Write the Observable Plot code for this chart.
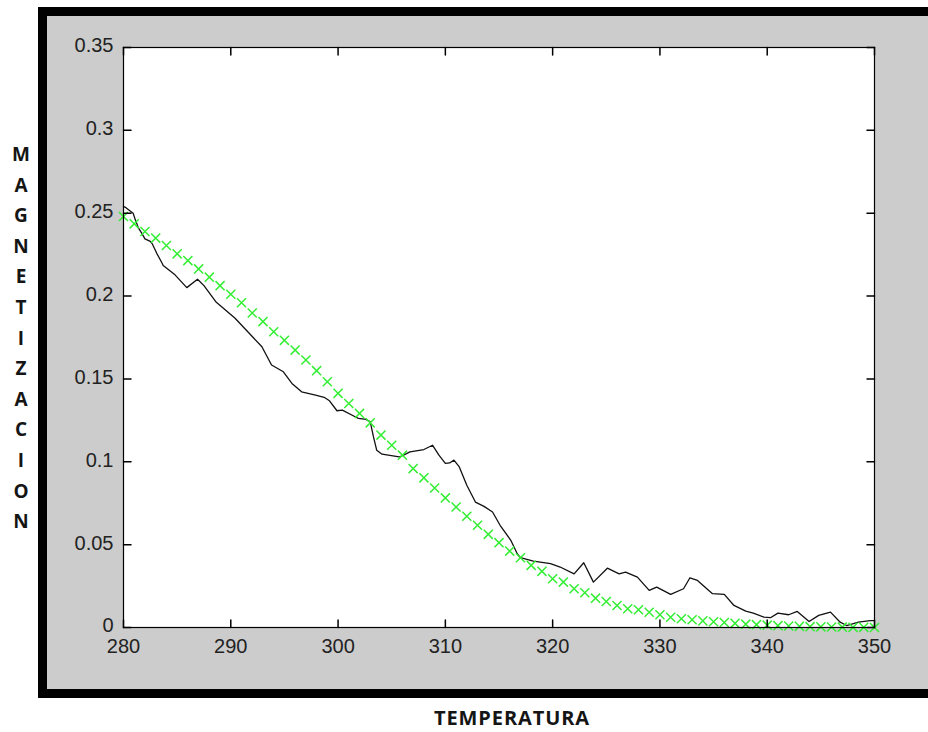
<!DOCTYPE html>
<html>
<head>
<meta charset="utf-8">
<script src="https://cdn.jsdelivr.net/npm/d3@7"></script>
<script src="https://cdn.jsdelivr.net/npm/@observablehq/plot@0.6"></script>
<style>
  html, body { margin: 0; padding: 0; background: #ffffff; }
  #page { position: relative; width: 928px; height: 732px; overflow: hidden; }
  #panel {
    position: absolute; left: 38px; top: 7px; width: 940px; height: 673px;
    background: #cccccc; border: 9px solid #000000;
  }
  #chart { position: absolute; left: 0; top: 0; }
  #ylabel {
    position: absolute; left: 6px; top: 139px; width: 30px;
    font-family: "Open Sans", sans-serif; font-weight: 700; font-size: 19px;
    line-height: 30.6px; text-align: center; color: #151515;
  }
  #xlabel {
    position: absolute; left: 0; top: 704px; width: 1024px;
    font-family: "Open Sans", sans-serif; font-weight: 700; font-size: 20px;
    text-align: center; color: #151515; letter-spacing: 0.9px;
  }
</style>
</head>
<body>
<div id="page">
  <div id="panel"></div>
  <div id="chart"></div>
  <div id="ylabel"></div>
  <div id="xlabel">TEMPERATURA</div>
</div>
<script>
// Measured magnetization (noisy curve)
const measuredT = [
  280, 280.2, 280.5, 280.9, 281.1, 281.4, 281.7, 282.0, 282.5, 282.7,
  283.1, 283.6, 283.7, 284.8, 285.9, 286.9, 287.5, 288.6, 290.4, 292.9,
  293.8, 294.9, 295.7, 296.6, 297.9, 298.7, 299.2, 299.9, 300.4, 301.5,
  301.9, 302.6, 303.0, 303.3, 303.6, 304.1, 305.7, 306.1, 306.7, 308.0,
  308.8, 309.4, 310.0, 310.4, 310.8, 311.3, 312.0, 312.8, 313.6, 314.4,
  315.1, 316.1, 316.7, 317.0, 318.2, 319.8, 320.7, 322.0, 322.9, 323.8,
  325.1, 326.2, 326.8, 327.9, 329.0, 329.7, 331.0, 332.2, 332.8, 333.5,
  334.9, 336.0, 336.9, 338.0, 338.7, 339.7, 340.3, 341.0, 342.0, 342.8,
  343.9, 344.8, 345.9, 346.8, 347.4, 348.5, 349.6, 350.0
];
const measuredM = [
  0.254, 0.2535, 0.252, 0.250, 0.246, 0.241, 0.238, 0.2345, 0.233, 0.2313,
  0.2258, 0.2198, 0.2184, 0.2128, 0.2051, 0.2102, 0.2063, 0.1966, 0.1866, 0.1694,
  0.1584, 0.1543, 0.1473, 0.1422, 0.1402, 0.1389, 0.1368, 0.1308, 0.1312, 0.1275,
  0.1262, 0.1256, 0.1241, 0.115, 0.107, 0.1046, 0.1029, 0.104, 0.106, 0.1074,
  0.110, 0.104, 0.099, 0.0993, 0.101, 0.0969, 0.0858, 0.0757, 0.0731, 0.0697,
  0.0617, 0.0526, 0.0445, 0.0421, 0.0401, 0.0385, 0.0365, 0.0324, 0.0391, 0.0274,
  0.0358, 0.0324, 0.0334, 0.0304, 0.0224, 0.0244, 0.020, 0.0234, 0.0300, 0.0284,
  0.0204, 0.020, 0.0133, 0.0099, 0.0087, 0.0062, 0.0059, 0.0087, 0.0077, 0.0097,
  0.0036, 0.0073, 0.0093, 0.0032, 0.0012, 0.0032, 0.0042, 0.0042
];

// Fitted magnetization (x markers, one per kelvin)
const fitT = [
  280, 281, 282, 283, 284, 285, 286, 287, 288, 289,
  290, 291, 292, 293, 294, 295, 296, 297, 298, 299,
  300, 301, 302, 303, 304, 305, 306, 307, 308, 309,
  310, 311, 312, 313, 314, 315, 316, 317, 318, 319,
  320, 321, 322, 323, 324, 325, 326, 327, 328, 329,
  330, 331, 332, 333, 334, 335, 336, 337, 338, 339,
  340, 341, 342, 343, 344, 345, 346, 347, 348, 349, 350
];
const fitM = [
  0.248, 0.2436, 0.239, 0.235, 0.2305, 0.2255, 0.2214, 0.2164, 0.2114, 0.2063,
  0.2011, 0.196, 0.1898, 0.1846, 0.1785, 0.1733, 0.1674, 0.1614, 0.155, 0.1483,
  0.1413, 0.1352, 0.1292, 0.1235, 0.1161, 0.110, 0.104, 0.0959, 0.0903, 0.0842,
  0.0782, 0.0727, 0.0671, 0.0617, 0.0562, 0.0512, 0.0461, 0.0421, 0.0375, 0.0339,
  0.0294, 0.0274, 0.0234, 0.021, 0.0177, 0.0157, 0.0133, 0.0113, 0.0107, 0.0092,
  0.0077, 0.0062, 0.0053, 0.0047, 0.004, 0.0035, 0.003, 0.0025, 0.002, 0.0017,
  0.0014, 0.0011, 0.0009, 0.0007, 0.0005, 0.0004, 0.0003, 0.0002, 0.0001, 0.0001, 0
];

const xTicks = [280, 290, 300, 310, 320, 330, 340, 350];
const yTicks = [0, 0.05, 0.1, 0.15, 0.2, 0.25, 0.3, 0.35];
const yTickLabels = ["0", "0.05", "0.1", "0.15", "0.2", "0.25", "0.3", "0.35"];
const yAxisTitle = "MAGNETIZACION";

const measured = measuredT.map((t, i) => ({t, m: measuredM[i]}));
const fitted = fitT.map((t, i) => ({t, m: fitM[i]}));

// short inward tick drawn along the vector direction
const tickShape = {draw(context, l) { context.moveTo(0, 0); context.lineTo(0, -l); }};
const tickLen = 7.5;

const chart = Plot.plot({
  width: 928,
  height: 732,
  marginLeft: 123,
  marginTop: 47,
  marginRight: 54,
  marginBottom: 105,
  style: {background: "transparent", fontFamily: "'Liberation Sans', Arial, sans-serif", fontSize: "20px", color: "#222"},
  x: {domain: [280, 350]},
  y: {domain: [0, 0.35]},
  marks: [
    Plot.frame({fill: "white"}),
    Plot.line(measured, {x: "t", y: "m", stroke: "#111", strokeWidth: 1.3}),
    Plot.dot(fitted, {x: "t", y: "m", symbol: "times", r: 4.2, stroke: "#33ee33", strokeWidth: 1.5}),
    // inward ticks on all four sides
    Plot.vector(yTicks, {y: d => d, frameAnchor: "left", rotate: 90, length: tickLen, anchor: "start", shape: tickShape, stroke: "#000"}),
    Plot.vector(yTicks, {y: d => d, frameAnchor: "right", rotate: -90, length: tickLen, anchor: "start", shape: tickShape, stroke: "#000"}),
    Plot.vector(xTicks, {x: d => d, frameAnchor: "bottom", rotate: 0, length: tickLen, anchor: "start", shape: tickShape, stroke: "#000"}),
    Plot.vector(xTicks, {x: d => d, frameAnchor: "top", rotate: 180, length: tickLen, anchor: "start", shape: tickShape, stroke: "#000"}),
    Plot.axisX({ticks: xTicks, tickSize: 0, tickPadding: 11, tickFormat: d => String(d), label: null}),
    Plot.axisY({ticks: yTicks, tickSize: 0, tickPadding: 10, dy: -1.5, tickFormat: d => yTickLabels[yTicks.indexOf(d)], label: null}),
    Plot.frame({stroke: "#000", strokeWidth: 1.2})
  ]
});
document.getElementById("chart").appendChild(chart);

// vertical stacked axis title
const yl = document.getElementById("ylabel");
for (const ch of yAxisTitle) {
  const line = document.createElement("div");
  line.textContent = ch;
  yl.appendChild(line);
}
</script>
</body>
</html>
